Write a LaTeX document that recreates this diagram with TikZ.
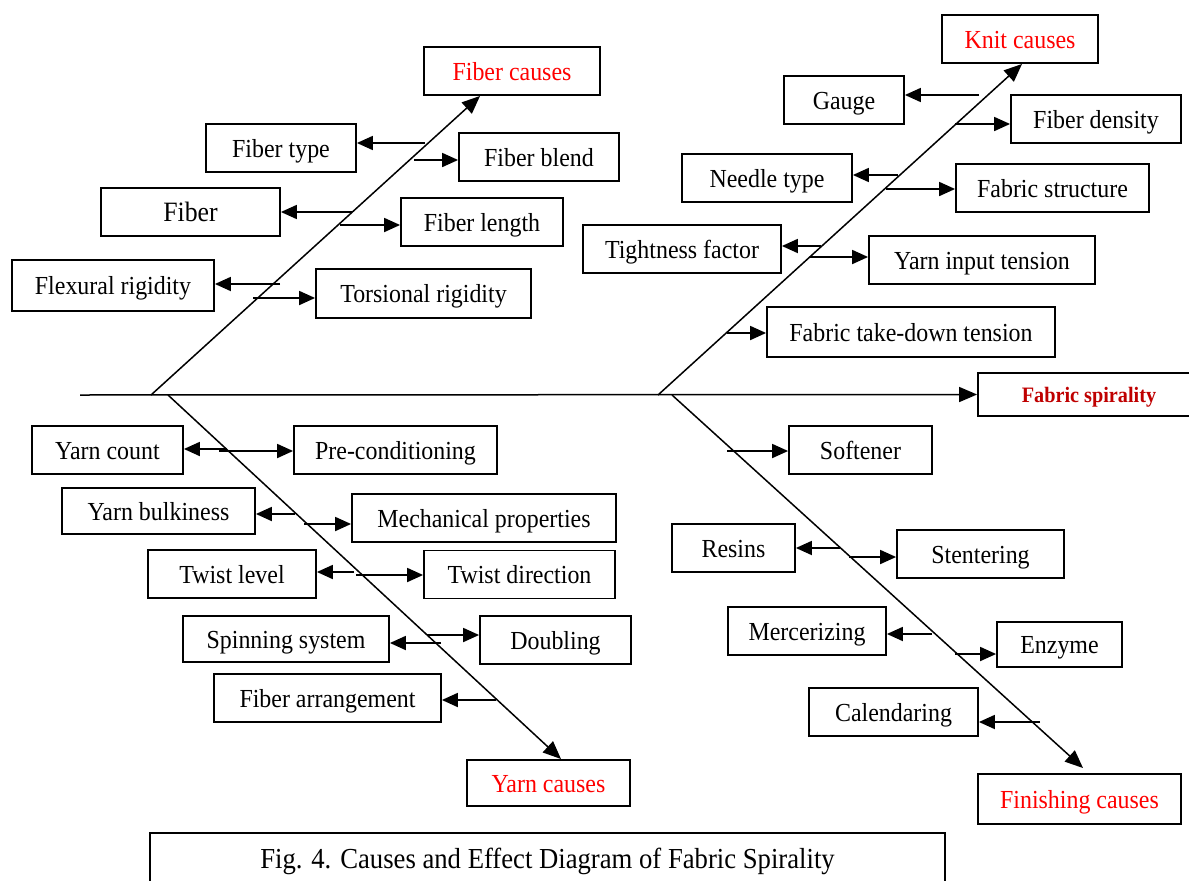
\documentclass[tikz,border=0pt]{standalone}
\usepackage{fontspec}
\setmainfont{Liberation Serif}[FakeStretch=0.92]
\usetikzlibrary{arrows.meta}

\begin{document}
\begin{tikzpicture}[x=1pt, y=-1pt, font=\fontsize{26}{30}\selectfont,
	box/.style={draw, line width=1.8pt, inner sep=0pt, minimum height=48pt,
		text height=18pt, text depth=0pt},
	cause/.style={box, text=red},
	bone/.style={line width=1.5pt, -{Triangle[length=18pt,width=15pt]}},
	twig/.style={line width=1.8pt, -{Triangle[length=16pt,width=14pt]}}]
	
	\useasboundingbox (0,0) rectangle (1189,881);
	
	% ------------------------------------------------------------
	% Positions of the bones
	% ------------------------------------------------------------
	
	\def\yspine{395}
	
	\coordinate (spine) at (80,\yspine);
	\coordinate (fbase) at (151,\yspine);
	\coordinate (ybase) at (168,\yspine);
	\coordinate (kbase) at (658,\yspine);
	\coordinate (nbase) at (672,\yspine);
	
	\coordinate (ftip) at (480,96);
	\coordinate (ytip) at (561,759);
	\coordinate (ktip) at (1022,64);
	\coordinate (ntip) at (1083,768);
	
	% ------------------------------------------------------------
	% Effect and main causes
	% ------------------------------------------------------------
	
	\node[box, minimum width=222pt, minimum height=43pt, text=red!75!black,
	text height=15pt, font=\fontsize{22}{26}\selectfont\bfseries] (effect) at (1089,394.5)
	{Fabric spirality};
	
	\node[cause, minimum width=176pt] (fcause) at (512,71) {Fiber causes};
	\node[cause, minimum width=156pt] (kcause) at (1020,39) {Knit causes};
	\node[cause, minimum width=163pt, minimum height=46pt] (ycause) at (548.5,783)
	{Yarn causes};
	\node[cause, minimum width=203pt, minimum height=50pt] (ncause) at (1079.5,799)
	{Finishing causes};
	
	% ------------------------------------------------------------
	% Fiber causes
	% ------------------------------------------------------------
	
	\node[box, minimum width=150pt] (ftype) at (281,148) {Fiber type};
	\node[box, minimum width=160pt] (fblend) at (539,157) {Fiber blend};
	\node[box, minimum width=179pt, font=\fontsize{28}{32}\selectfont] (fiber) at (190.5,212)
	{Fiber};
	\node[box, minimum width=162pt] (flength) at (482,222) {Fiber length};
	\node[box, minimum width=202pt, minimum height=51pt] (flex) at (113,285.5)
	{Flexural rigidity};
	\node[box, minimum width=215pt, minimum height=49pt] (tors) at (423.5,293.5)
	{Torsional rigidity};
	
	% ------------------------------------------------------------
	% Knit causes
	% ------------------------------------------------------------
	
	\node[box, minimum width=120pt] (gauge) at (844,100) {Gauge};
	\node[box, minimum width=170pt] (fdens) at (1096,119) {Fiber density};
	\node[box, minimum width=170pt] (needle) at (767,178) {Needle type};
	\node[box, minimum width=193pt] (fstruct) at (1052.5,188) {Fabric structure};
	\node[box, minimum width=198pt] (tight) at (682,249) {Tightness factor};
	\node[box, minimum width=226pt] (yinput) at (982,260) {Yarn input tension};
	\node[box, minimum width=288pt, minimum height=50pt] (takedown) at (911,332)
	{Fabric take-down tension};
	
	% ------------------------------------------------------------
	% Yarn causes
	% ------------------------------------------------------------
	
	\node[box, minimum width=151pt] (ycount) at (107.5,450) {Yarn count};
	\node[box, minimum width=203pt] (precond) at (395.5,450) {Pre-conditioning};
	\node[box, minimum width=193pt, minimum height=46pt] (bulk) at (158.5,511)
	{Yarn bulkiness};
	\node[box, minimum width=264pt] (mech) at (484,518) {Mechanical properties};
	\node[box, minimum width=168pt] (tlevel) at (232,574) {Twist level};
	\node[box, minimum width=191pt] (tdir) at (519.5,574.5) {Twist direction};
	\node[box, minimum width=206pt, minimum height=46pt] (spin) at (286,639)
	{Spinning system};
	\node[box, minimum width=151pt] (doubl) at (555.5,640) {Doubling};
	\node[box, minimum width=227pt] (farr) at (327.5,698) {Fiber arrangement};
	
	% ------------------------------------------------------------
	% Finishing causes
	% ------------------------------------------------------------
	
	\node[box, minimum width=143pt] (soft) at (860.5,450) {Softener};
	\node[box, minimum width=123pt] (resins) at (733.5,548) {Resins};
	\node[box, minimum width=167pt] (stent) at (980.5,554) {Stentering};
	\node[box, minimum width=158pt] (merc) at (807,631) {Mercerizing};
	\node[box, minimum width=125pt, minimum height=45pt] (enz) at (1059.5,644.5)
	{Enzyme};
	\node[box, minimum width=169pt] (cal) at (893.5,712) {Calendaring};
	
	% ------------------------------------------------------------
	% Spine and bones
	% ------------------------------------------------------------
	
	\draw[bone] (spine) -- (effect.west);
	\draw[bone] (fbase) -- (ftip);
	\draw[bone] (ybase) -- (ytip);
	\draw[bone] (kbase) -- (ktip);
	\draw[bone] (nbase) -- (ntip);
	
	% ------------------------------------------------------------
	% Twigs
	% ------------------------------------------------------------
	
	\coordinate (ft) at (425,143);
	\coordinate (fb) at (414,160);
	\coordinate (fi) at (352,212);
	\coordinate (fl) at (340,225);
	\coordinate (fx) at (280,284);
	\coordinate (fr) at (253,298);
	
	\draw[twig] (ft) -- (ft -| ftype.east);
	\draw[twig] (fb) -- (fb -| fblend.west);
	\draw[twig] (fi) -- (fi -| fiber.east);
	\draw[twig] (fl) -- (fl -| flength.west);
	\draw[twig] (fx) -- (fx -| flex.east);
	\draw[twig] (fr) -- (fr -| tors.west);
	
	\coordinate (kg) at (979,95);
	\coordinate (kd) at (955,124);
	\coordinate (kn) at (898,175);
	\coordinate (ks) at (886,189);
	\coordinate (kt) at (821,246);
	\coordinate (ky) at (810,257);
	\coordinate (kf) at (727,333);
	
	\draw[twig] (kg) -- (kg -| gauge.east);
	\draw[twig] (kd) -- (kd -| fdens.west);
	\draw[twig] (kn) -- (kn -| needle.east);
	\draw[twig] (ks) -- (ks -| fstruct.west);
	\draw[twig] (kt) -- (kt -| tight.east);
	\draw[twig] (ky) -- (ky -| yinput.west);
	\draw[twig] (kf) -- (kf -| takedown.west);
	
	\coordinate (yc) at (227,449);
	\coordinate (yp) at (219,451);
	\coordinate (yb) at (295,514);
	\coordinate (ym) at (304,524);
	\coordinate (yl) at (354,572);
	\coordinate (yd) at (356,575);
	\coordinate (ys) at (441,643);
	\coordinate (yo) at (427,635);
	\coordinate (ya) at (496,700);
	
	\draw[twig] (yc) -- (yc -| ycount.east);
	\draw[twig] (yp) -- (yp -| precond.west);
	\draw[twig] (yb) -- (yb -| bulk.east);
	\draw[twig] (ym) -- (ym -| mech.west);
	\draw[twig] (yl) -- (yl -| tlevel.east);
	\draw[twig] (yd) -- (yd -| tdir.west);
	\draw[twig] (ys) -- (ys -| spin.east);
	\draw[twig] (yo) -- (yo -| doubl.west);
	\draw[twig] (ya) -- (ya -| farr.east);
	
	\coordinate (ns) at (727,451);
	\coordinate (nr) at (840,548);
	\coordinate (nt) at (849,557);
	\coordinate (nm) at (932,634);
	\coordinate (ne) at (955,654);
	\coordinate (nc) at (1040,722);
	
	\draw[twig] (ns) -- (ns -| soft.west);
	\draw[twig] (nr) -- (nr -| resins.east);
	\draw[twig] (nt) -- (nt -| stent.west);
	\draw[twig] (nm) -- (nm -| merc.east);
	\draw[twig] (ne) -- (ne -| enz.west);
	\draw[twig] (nc) -- (nc -| cal.east);
	
	% ------------------------------------------------------------
	% Caption
	% ------------------------------------------------------------
	
	\node[box, minimum width=795pt, minimum height=56pt, font=\fontsize{29}{33}\selectfont,
	text height=20pt, text depth=6pt] (caption) at (547.5,861)
	{Fig. 4. Causes and Effect Diagram of Fabric Spirality};
	
\end{tikzpicture}
\end{document}
